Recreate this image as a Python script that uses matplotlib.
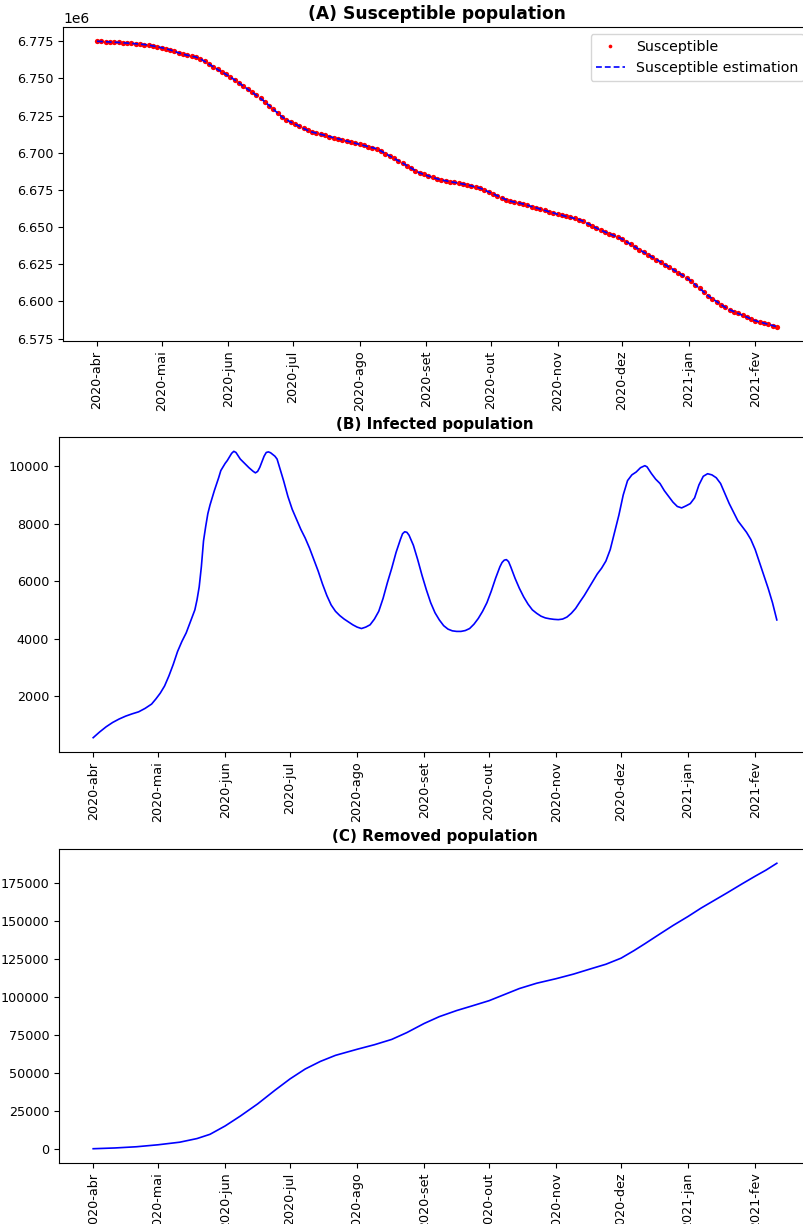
import matplotlib
matplotlib.use("Agg")
import matplotlib.pyplot as plt
import matplotlib.dates as mdates
from matplotlib.ticker import FuncFormatter
import numpy as np
import pandas as pd

START = pd.Timestamp("2020-04-01")

# Susceptible population, in thousands, every second day from 2020-04-01
s_days = np.arange(0, 317, 2)
s_thousands = [
    6775.0, 6774.85, 6774.7, 6774.5, 6774.35, 6774.2, 6774.0, 6773.8, 6773.6, 6773.35,
    6773.1, 6772.8, 6772.4, 6771.9, 6771.3, 6770.7, 6770.0, 6769.2, 6768.2, 6767.2,
    6766.3, 6765.6, 6765.0, 6764.4, 6763.2, 6761.5, 6759.7, 6757.9, 6756.1, 6754.4,
    6752.7, 6750.9, 6749.0, 6747.0, 6744.9, 6742.8, 6740.8, 6738.7, 6736.6, 6734.3,
    6731.8, 6729.2, 6726.7, 6724.1, 6722.2, 6720.7, 6719.3, 6717.9, 6716.4, 6715.0,
    6713.9, 6713.2, 6712.4, 6711.7, 6710.9, 6710.2, 6709.4, 6708.7, 6707.9, 6707.2,
    6706.4, 6705.7, 6704.9, 6704.2, 6703.4, 6702.7, 6701.2, 6699.5, 6697.9, 6696.2,
    6694.7, 6693.1, 6691.4, 6689.7, 6688.0, 6686.4, 6685.4, 6684.4, 6683.4, 6682.5,
    6681.7, 6681.2, 6680.6, 6680.1, 6679.5, 6679.0, 6678.4, 6677.7, 6677.0, 6676.2,
    6675.0, 6673.7, 6672.4, 6671.1, 6669.8, 6668.5, 6667.5, 6666.8, 6666.2, 6665.6,
    6664.7, 6663.8, 6663.0, 6662.1, 6661.3, 6660.4, 6659.6, 6658.7, 6658.0, 6657.2,
    6656.5, 6655.8, 6655.1, 6653.9, 6652.4, 6650.9, 6649.4, 6648.0, 6646.8, 6645.6,
    6644.4, 6643.2, 6642.0, 6640.2, 6638.4, 6636.7, 6634.9, 6633.2, 6631.5, 6629.8,
    6628.2, 6626.5, 6624.7, 6623.0, 6621.2, 6619.4, 6617.7, 6615.9, 6613.8, 6611.3,
    6608.8, 6606.3, 6603.8, 6601.8, 6599.9, 6597.9, 6596.0, 6594.4, 6593.2, 6591.9,
    6590.7, 6589.5, 6588.2, 6587.0, 6586.2, 6585.4, 6584.6, 6583.8, 6583.0,
]

# Infected population (day offset, value)
i_days = [0, 3, 6, 9, 12, 15, 18, 21, 24, 27, 29, 31, 33, 35, 37, 39, 41, 43, 45,
          47, 48, 49, 50, 51, 52, 53, 54, 56, 58, 59, 61, 62, 64, 65, 66, 68, 70, 72,
          74, 75, 76, 77, 78, 79, 80, 81, 82, 84, 85, 86, 88, 90, 92, 94, 96, 98,
          100, 102, 104, 106, 108, 110, 112, 114, 116, 118, 120, 122, 124, 126, 128,
          130, 132, 134, 136, 138, 140, 142, 143, 144, 145, 146, 148, 150, 152, 154,
          156, 158, 160, 162, 164, 166, 168, 170, 172, 174, 176, 178, 180, 182, 184,
          186, 188, 189, 190, 191, 192, 193, 195, 197, 199, 201, 203, 205, 207, 209,
          211, 213, 215, 217, 219, 221, 223, 225, 227, 229, 231, 233, 235, 237, 239,
          241, 243, 245, 247, 249, 251, 253, 255, 256, 258, 260, 262, 264, 266, 268,
          270, 272, 274, 276, 278, 280, 282, 284, 286, 288, 290, 292, 294, 296, 298,
          300, 302, 304, 306, 308, 310, 312, 314, 316]
i_vals = [550, 750, 930, 1080, 1200, 1300, 1380, 1450, 1570, 1720, 1900, 2100, 2350,
          2700, 3100, 3550, 3900, 4200, 4600, 5000, 5350, 5800, 6500, 7400, 7900,
          8350, 8650, 9150, 9600, 9850, 10100, 10200, 10450, 10520, 10480, 10250,
          10100, 9950, 9820, 9770, 9820, 9960, 10150, 10350, 10480, 10500, 10470,
          10350, 10250, 10000, 9500, 8950, 8500, 8150, 7800, 7500, 7150, 6750, 6350,
          5900, 5500, 5170, 4950, 4800, 4680, 4580, 4480, 4400, 4350, 4400, 4480,
          4680, 4950, 5400, 5950, 6450, 7000, 7450, 7650, 7720, 7700, 7600, 7250,
          6750, 6200, 5700, 5250, 4900, 4650, 4450, 4330, 4270, 4250, 4250, 4280,
          4350, 4500, 4700, 4950, 5250, 5650, 6100, 6500, 6650, 6730, 6750, 6680,
          6500, 6100, 5750, 5450, 5200, 5000, 4880, 4780, 4720, 4690, 4670, 4660,
          4680, 4750, 4880, 5050, 5280, 5500, 5750, 6000, 6250, 6450, 6700, 7100,
          7700, 8300, 9000, 9500, 9700, 9800, 9950, 10020, 9980, 9750, 9550, 9400,
          9150, 8950, 8750, 8600, 8550, 8620, 8700, 8900, 9350, 9650, 9740, 9700,
          9600, 9400, 9050, 8700, 8400, 8100, 7900, 7700, 7450, 7100, 6650, 6200,
          5750, 5250, 4650]

# Removed population (day offset, value)
r_days = [0, 10, 20, 30, 40, 48, 54, 61, 68, 76, 84, 91, 98, 105, 112, 122, 130,
          138, 145, 153, 160, 168, 175, 183, 190, 197, 205, 214, 222, 230, 237, 244,
          250, 255, 262, 268, 275, 281, 287, 293, 300, 306, 311, 316]
r_vals = [0, 500, 1300, 2600, 4300, 6700, 9500, 15000, 21500, 29500, 38500, 46000,
          52500, 57500, 61500, 65500, 68500, 72000, 76500, 82500, 87000, 91000,
          94000, 97500, 101500, 105500, 109000, 112000, 115000, 118500, 121500,
          125500, 130500, 135000, 141500, 147000, 153000, 158500, 163500, 168500,
          174500, 179500, 183500, 188000]

MONTHS_PT = ["jan", "fev", "mar", "abr", "mai", "jun",
             "jul", "ago", "set", "out", "nov", "dez"]

TICK_SIZE = 9.2


def to_dates(days):
    return START + pd.to_timedelta(np.asarray(days), unit="D")


def month_label(x, pos=None):
    d = mdates.num2date(x)
    return f"{d.year}-{MONTHS_PT[d.month - 1]}"


def style_dates(ax):
    ax.xaxis.set_major_locator(mdates.MonthLocator())
    ax.xaxis.set_major_formatter(FuncFormatter(month_label))
    ax.tick_params(axis="both", labelsize=TICK_SIZE)
    ax.tick_params(axis="x", labelrotation=90)


fig = plt.figure(figsize=(8.04, 12.24), dpi=100)
W, H = 804.0, 1224.0


def add_axes(left, top, bottom, right=811):
    return fig.add_axes([left / W, 1 - bottom / H, (right - left) / W, (bottom - top) / H])


ax1 = add_axes(63, 27, 341)
ax2 = add_axes(59, 437, 752)
ax3 = add_axes(59, 849, 1163)

s_vals = np.asarray(s_thousands) * 1000
ax1.plot(to_dates(s_days), s_vals, "o", color="red", ms=3.8, mew=0, label="Susceptible")
ax1.plot(to_dates(s_days), s_vals, "--", color="blue", lw=1.2, dashes=(3.5, 1.8),
         label="Susceptible estimation")
ax1.set_title("(A) Susceptible population", fontsize=12.3, fontweight="bold")
ax1.legend(loc="upper right", fontsize=10.2, markerscale=0.7)
style_dates(ax1)

ax2.plot(to_dates(i_days), i_vals, "-", color="blue", lw=1.2)
ax2.set_title("(B) Infected population", fontsize=10.9, fontweight="bold")
style_dates(ax2)

ax3.plot(to_dates(r_days), r_vals, "-", color="blue", lw=1.2)
ax3.set_title("(C) Removed population", fontsize=10.9, fontweight="bold")
style_dates(ax3)

fig.savefig("out.png", dpi=100)
